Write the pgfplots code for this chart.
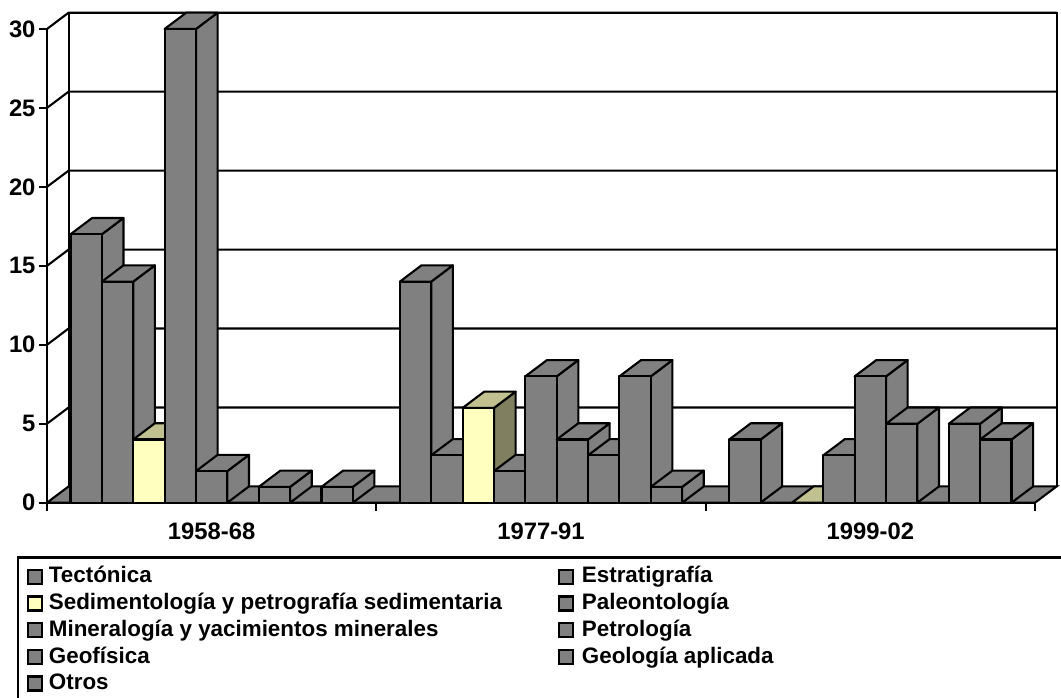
\documentclass[border=0pt]{standalone}
\usepackage{fontspec}
\setmainfont{Liberation Sans}
\usepackage{pgfplots}
\pgfplotsset{compat=1.18}
\definecolor{barg}{HTML}{808080}
\definecolor{yfront}{HTML}{FFFFC0}
\definecolor{ytop}{HTML}{C0C090}
\definecolor{yside}{HTML}{808060}
\newcommand{\lw}{2.1bp}
\newcommand{\ddx}{0.0656}
\newcommand{\ddy}{1.03}
% one 3D bar: group, position in group, value, colours of front, top, side
\newcommand{\Cube}[6]{%
  \pgfmathsetmacro{\xa}{#1+0.07143+#2*0.09524}%
  \pgfmathsetmacro{\xb}{\xa+0.09524}%
  \pgfmathsetmacro{\xc}{\xa+\ddx}%
  \pgfmathsetmacro{\xd}{\xb+\ddx}%
  \pgfmathsetmacro{\yt}{#3+\ddy}%
  \addplot[forget plot,no marks,draw=black,line width=\lw,line join=round,fill=#6]
    coordinates {(\xb,0) (\xd,\ddy) (\xd,\yt) (\xb,#3)} --cycle;
  \addplot[forget plot,no marks,draw=black,line width=\lw,line join=round,fill=#5]
    coordinates {(\xa,#3) (\xb,#3) (\xd,\yt) (\xc,\yt)} --cycle;
  \addplot[forget plot,no marks,draw=black,line width=\lw,line join=round,fill=#4]
    coordinates {(\xa,0) (\xb,0) (\xb,#3) (\xa,#3)} --cycle;
}
\newcommand{\G}[3]{\ifdim#3pt>0pt \Cube{#1}{#2}{#3}{barg}{barg}{barg}\fi}
\newcommand{\Y}[3]{\Cube{#1}{#2}{#3}{yfront}{ytop}{yside}}
\newcommand{\WallLine}[1]{%
  \pgfmathsetmacro{\yw}{#1+\ddy}%
  \addplot[forget plot,no marks,black,line width=\lw] coordinates {(0,#1) (\ddx,\yw) (3.0656,\yw)};
}
\begin{document}
\begin{tikzpicture}
\useasboundingbox (0,0) rectangle (1061bp,698bp);
\draw[black,line width=2.4bp] (18bp,0bp) -- (18bp,140.5bp) -- (1061bp,140.5bp);
\begin{axis}[
  at={(47bp,195.3bp)}, anchor=south west,
  scale only axis, width=1009.6bp, height=490bp,
  xmin=0, xmax=3.0656, ymin=0, ymax=31.03,
  clip=false,
  axis x line*=bottom, axis y line*=left,
  axis line style={draw=none},
  tick align=outside,
  tick style={black,line width=\lw},
  major tick length=8bp,
  xtick={0,1,2,3}, xticklabels={},
  extra x ticks={0.5,1.5,2.5},
  extra x tick labels={1958-68,1977-91,1999-02},
  extra x tick style={tick style={draw=none},
    xticklabel style={yshift=-9bp}},
  ytick={0,5,10,15,20,25,30},
  /pgf/number format/assume math mode=true,
  ticklabel style={font=\fontsize{23.8bp}{27bp}\selectfont\bfseries},
  yticklabel style={xshift=0bp},
  legend columns=2,
  legend cell align=left,
  legend style={
    at={(-0.0198,-0.127)}, anchor=north west,
    draw=none, fill=none, inner sep=0pt, outer sep=0pt,
    font=\fontsize{22.4bp}{27bp}\selectfont\bfseries,
    nodes={inner sep=0pt, outer sep=0pt, text height=18bp, text depth=8.7bp, anchor=west},
    /tikz/every even column/.append style={column sep=56bp},
    /tikz/column 1/.append style={column sep=4bp},
    /tikz/column 3/.append style={column sep=6bp},
  },
  legend image code/.code={\draw[draw=black,line width=2.4bp,#1] (0bp,-5.5bp) rectangle (14bp,8.5bp) (15.5bp,0bp);},
]
% back wall, floor, axis line
\addplot[forget plot,no marks,draw=black,line width=\lw,fill=barg]
  coordinates {(0,0) (3,0) (3.0656,1.03) (0.0656,1.03)} --cycle;
\addplot[forget plot,no marks,black,line width=\lw] coordinates {(0,0) (0,30)};
\addplot[forget plot,no marks,black,line width=\lw] coordinates {(0.0656,1.03) (0.0656,31.03) (3.0656,31.03) (3.0656,1.03)};
\WallLine{5}\WallLine{10}\WallLine{15}\WallLine{20}\WallLine{25}\WallLine{30}
% 1958-68
\G{0}{0}{17}\G{0}{1}{14}\Y{0}{2}{4}\G{0}{3}{30}\G{0}{4}{2}\G{0}{5}{0}\G{0}{6}{1}\G{0}{7}{0}\G{0}{8}{1}
% 1977-91
\G{1}{0}{14}\G{1}{1}{3}\Y{1}{2}{6}\G{1}{3}{2}\G{1}{4}{8}\G{1}{5}{4}\G{1}{6}{3}\G{1}{7}{8}\G{1}{8}{1}
% 1999-02
\G{2}{0}{4}\G{2}{1}{0}\Y{2}{2}{0}\G{2}{3}{3}\G{2}{4}{8}\G{2}{5}{5}\G{2}{6}{0}\G{2}{7}{5}\G{2}{8}{4}
% legend
\addlegendimage{fill=barg}\addlegendentry{Tectónica}
\addlegendimage{fill=barg}\addlegendentry{Estratigrafía}
\addlegendimage{fill=yfront}\addlegendentry{Sedimentología y petrografía sedimentaria}
\addlegendimage{fill=barg}\addlegendentry{Paleontología}
\addlegendimage{fill=barg}\addlegendentry{Mineralogía y yacimientos minerales}
\addlegendimage{fill=barg}\addlegendentry{Petrología}
\addlegendimage{fill=barg}\addlegendentry{Geofísica}
\addlegendimage{fill=barg}\addlegendentry{Geología aplicada}
\addlegendimage{fill=barg}\addlegendentry{Otros}
\end{axis}
\end{tikzpicture}
\end{document}
